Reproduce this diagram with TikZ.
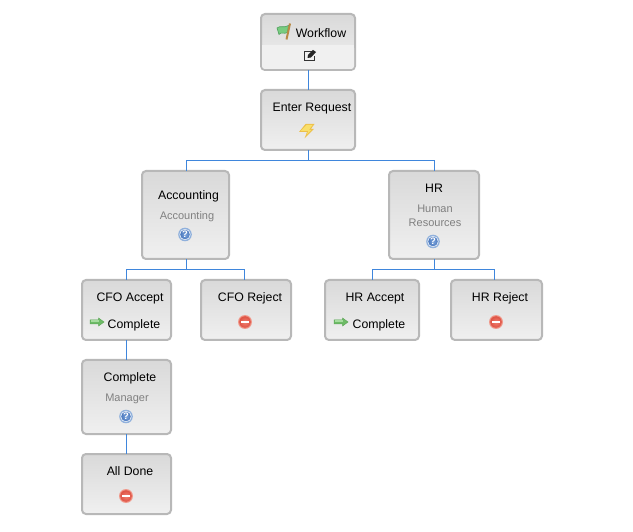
\documentclass[tikz,border=0pt]{standalone}
\usepackage{fontspec}
\setmainfont{Liberation Sans}
\begin{document}
\begin{tikzpicture}[x=1pt,y=-1pt,line cap=butt,
  wfbox/.style={draw=boxline,line width=2pt,rounded corners=4pt,top color=boxtop,bottom color=boxbot,
    anchor=north west,inner sep=0pt,outer sep=0pt},
  wire/.style={draw=wireblue,line width=1pt},
  title/.style={font=\fontsize{12.3}{14}\selectfont,text=black,anchor=base,inner sep=0pt},
  sub/.style={font=\fontsize{11}{13}\selectfont,text=subgray,anchor=base,inner sep=0pt},
  pics/help/.style={code={
    \fill[helpring] (0,0) circle (6.8);
    \fill[white!80!helpring] (0,0) circle (5.6);
    \shade[inner color=helplight,outer color=helpblue] (0,0) circle (4.8);
    \node[text=white,inner sep=0pt,font=\bfseries\fontsize{9.5}{9.5}\selectfont] at (0,0) {?};
  }},
  pics/stopsign/.style={code={
    \fill[stopedge] (0,0) circle (7);
    \shade[inner color=stoplight,outer color=stopred] (0,0) circle (5.8);
    \fill[white] (-4,-1.3) rectangle (4,1.3);
  }},
  pics/goarrow/.style={code={
    \fill[arrowgreen,draw=arrowdark,line width=.5pt] (-7,-2) -- (1.5,-2) -- (1.5,-4) -- (7,0) -- (1.5,4) -- (1.5,2) -- (-7,2) -- cycle;
    \fill[arrowlight] (-6.5,-1.5) rectangle (2,0);
  }},
  pics/bolt/.style={code={
    \fill[boltdark] (-1,-7) -- (8,-7) -- (4.5,-2.2) -- (7.5,-2.2) -- (-2,7.5) -- (0.5,1) -- (-7.5,1) -- cycle;
    \fill[boltyellow] (0,-6) -- (6,-6) -- (2.5,-1.2) -- (5,-1.2) -- (0,4) -- (1.8,0) -- (-6,0) -- cycle;
  }},
  pics/flag/.style={code={
    \fill[flaggreen,draw=flagdark,line width=.6pt] (-8,-3.5) .. controls (-5,-6.5) and (-1,-3) .. (3.5,-6) -- (2.5,1) .. controls (-1,3) and (-4,0) .. (-6,3) -- cycle;
    \draw[flagpole,line width=2pt] (5,-8) -- (1.5,8);
  }},
  pics/editicon/.style={code={
    \draw[black!80,line width=1pt] (2,-4) -- (-5.5,-4) -- (-5.5,5) -- (4,5) -- (4,1);
    \fill[black!85] (-2.5,2.5) -- (-2,-.5) -- (3,-5.5) -- (6,-3.5) -- (1,2) -- cycle;
  }}]
\definecolor{boxline}{HTML}{B8B8B8}
\definecolor{boxtop}{HTML}{D9D9D9}
\definecolor{boxbot}{HTML}{F0F0F0}
\definecolor{wireblue}{HTML}{3F86DC}
\definecolor{subgray}{HTML}{808080}
\definecolor{helpblue}{HTML}{4A78BE}
\definecolor{helplight}{HTML}{7FA6DC}
\definecolor{helpring}{HTML}{8FB0DC}
\definecolor{stopred}{HTML}{DE5244}
\definecolor{stoplight}{HTML}{F08070}
\definecolor{stopedge}{HTML}{F09A8C}
\definecolor{arrowgreen}{HTML}{6DBB66}
\definecolor{arrowlight}{HTML}{A5DC9E}
\definecolor{arrowdark}{HTML}{5EA858}
\definecolor{boltyellow}{HTML}{F9DF6A}
\definecolor{boltdark}{HTML}{EDC04A}
\definecolor{flaggreen}{HTML}{78CC80}
\definecolor{flagdark}{HTML}{4E9E5C}
\definecolor{flagpole}{HTML}{B98A45}
\definecolor{bandfill}{HTML}{F0F0F0}
\useasboundingbox (0,0) rectangle (633,532);
\fill[white] (0,0) rectangle (633,532);

% boxes
\node[wfbox,minimum width=94pt,minimum height=56pt] (wf) at (261,14) {};
\node[wfbox,minimum width=94pt,minimum height=60pt] (enter) at (261,90) {};
\node[wfbox,minimum width=87pt,minimum height=88pt] (acc) at (142,171) {};
\node[wfbox,minimum width=90pt,minimum height=88pt] (hr) at (389,171) {};
\node[wfbox,minimum width=89pt,minimum height=60pt] (cfoa) at (82,280) {};
\node[wfbox,minimum width=90pt,minimum height=60pt] (cfor) at (201,280) {};
\node[wfbox,minimum width=94pt,minimum height=60pt] (hra) at (325,280) {};
\node[wfbox,minimum width=91pt,minimum height=60pt] (hrr) at (451,280) {};
\node[wfbox,minimum width=89pt,minimum height=74pt] (comp) at (82,360) {};
\node[wfbox,minimum width=89pt,minimum height=60pt] (done) at (82,454) {};

% workflow lower band
\fill[bandfill,rounded corners=3pt] (262,45) -- (354,45) -- (354,69) -- (262,69) -- cycle;
\fill[bandfill] (262,45) rectangle (354,60);

% connectors
\draw[wire] ([xshift=.5pt]wf.south) -- ([xshift=.5pt]enter.north);
\draw[wire] ([xshift=.5pt]enter.south) -- ++(0,10.5) -| ([xshift=.5pt]acc.north);
\draw[wire] ([xshift=.5pt]enter.south) -- ++(0,10.5) -| ([xshift=.5pt]hr.north);
\draw[wire] ([xshift=.5pt]acc.south) -- ++(0,11) -| (cfoa.north);
\draw[wire] ([xshift=.5pt]acc.south) -- ++(0,11) -| ([xshift=-1.5pt]cfor.north);
\draw[wire] ([xshift=.5pt]hr.south) -- ++(0,11) -| ([xshift=.5pt]hra.north);
\draw[wire] ([xshift=.5pt]hr.south) -- ++(0,11) -| ([xshift=-2.5pt]hrr.north);
\draw[wire] (cfoa.south) -- (comp.north);
\draw[wire] (comp.south) -- (done.north);

% labels
\node[title] (t1) at (321,37.5) {Workflow};
\node[title] (t2) at (312,111.5) {Enter Request};
\node[title] (t3) at (188.5,199.5) {Accounting};
\node[sub] (s3) at (187,219.5) {Accounting};
\node[title] (t4) at (434,192.5) {HR};
\node[sub] (s4) at (435,212.5) {Human};
\node[sub] (s4b) at (435,226.5) {Resources};
\node[title] (t5) at (130,301.5) {CFO Accept};
\node[title] (t5b) at (134,328.5) {Complete};
\node[title] (t6) at (250,301.5) {CFO Reject};
\node[title] (t7) at (375,301.5) {HR Accept};
\node[title] (t7b) at (379,328.5) {Complete};
\node[title] (t8) at (500,301.5) {HR Reject};
\node[title] (t9) at (130,381.5) {Complete};
\node[sub] (s9) at (127,401.5) {Manager};
\node[title] (t10) at (130,475.5) {All Done};

% icons
\pic at (285,31.5) {flag};
\pic at (310,55.5) {editicon};
\pic at (306.5,131) {bolt};
\pic at (185,234.5) {help};
\pic at (433,241.5) {help};
\pic at (126,416.5) {help};
\pic at (97,322) {goarrow};
\pic at (341,322) {goarrow};
\pic at (245,322) {stopsign};
\pic at (496,322) {stopsign};
\pic at (126,496) {stopsign};
\end{tikzpicture}
\end{document}
